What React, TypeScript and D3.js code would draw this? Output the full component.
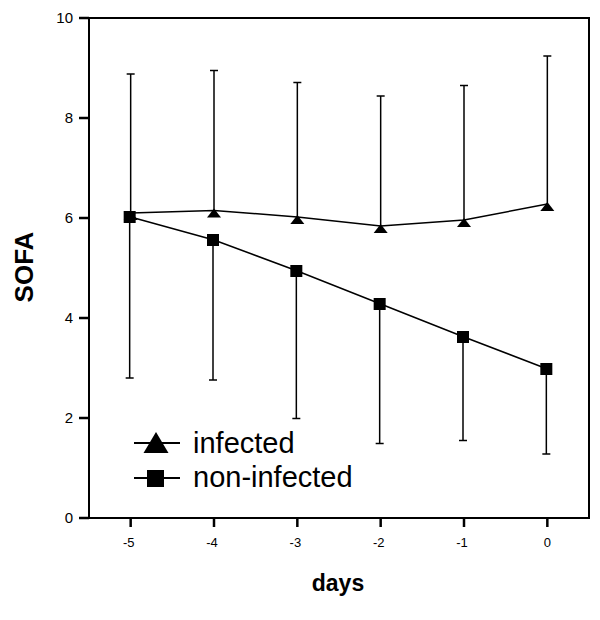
import React from "react";
import * as d3 from "d3";

const days = [-5, -4, -3, -2, -1, 0];
const infectedMean = [6.1, 6.15, 6.02, 5.84, 5.96, 6.28];
const infectedUpper = [8.88, 8.95, 8.71, 8.44, 8.65, 9.24];
const nonInfectedMean = [6.02, 5.56, 4.94, 4.28, 3.62, 2.98];
const nonInfectedLower = [2.8, 2.76, 1.99, 1.49, 1.55, 1.28];
const yTicks = [0, 2, 4, 6, 8, 10];
const xTicks = [-5, -4, -3, -2, -1, 0];
const legendLabels = ["infected", "non-infected"];

const FONT = "Arial, 'Liberation Sans', Helvetica, sans-serif";

export default function App() {
  const left = 89, right = 589, top = 18, bottom = 518;
  const x = d3.scaleLinear().domain([-5.5, 0.5]).range([left, right]);
  const y = d3.scaleLinear().domain([0, 10]).range([bottom, top]);
  const line = d3
    .line<number>()
    .x((_, i) => x(days[i]))
    .y((d) => y(d));

  const tri = (cx: number, cy: number, w: number, h: number, up: number) =>
    `M${cx},${cy - up} L${cx + w / 2},${cy - up + h} L${cx - w / 2},${cy - up + h} Z`;

  return (
    <svg
      width={600}
      height={620}
      style={{ position: "absolute", left: 0, top: 0, background: "#fff" }}
    >
      <rect x={0} y={0} width={600} height={620} fill="#fff" />
      <rect
        x={left}
        y={top}
        width={right - left}
        height={bottom - top}
        fill="none"
        stroke="#000"
        strokeWidth={2}
      />
      {yTicks.map((t) => (
        <g key={"y" + t}>
          <line x1={79} x2={left} y1={y(t)} y2={y(t)} stroke="#000" strokeWidth={2.5} />
          <text
            x={73}
            y={y(t)}
            dy="0.36em"
            textAnchor="end"
            fontFamily={FONT}
            fontSize={15}
            fill="#000"
          >
            {t}
          </text>
        </g>
      ))}
      {xTicks.map((t) => (
        <g key={"x" + t}>
          <line x1={x(t)} x2={x(t)} y1={bottom} y2={527} stroke="#000" strokeWidth={2.5} />
          <text
            x={x(t) - (t < 0 ? 2 : 0)}
            y={547}
            textAnchor="middle"
            fontFamily={FONT}
            fontSize={13}
            fill="#000"
          >
            {t}
          </text>
        </g>
      ))}
      <text
        x={338}
        y={591}
        textAnchor="middle"
        fontFamily={FONT}
        fontWeight="bold"
        fontSize={23}
        fill="#000"
      >
        days
      </text>
      <text
        transform="translate(33,267) rotate(-90)"
        textAnchor="middle"
        fontFamily={FONT}
        fontWeight="bold"
        fontSize={26}
        fill="#000"
      >
        SOFA
      </text>

      {days.map((d, i) => (
        <g key={"ei" + d}>
          <line
            x1={x(d)}
            x2={x(d)}
            y1={y(infectedMean[i])}
            y2={y(infectedUpper[i])}
            stroke="#000"
            strokeWidth={1.5}
          />
          <line
            x1={x(d) - 4}
            x2={x(d) + 4}
            y1={y(infectedUpper[i])}
            y2={y(infectedUpper[i])}
            stroke="#000"
            strokeWidth={1.5}
          />
        </g>
      ))}
      {days.map((d, i) => (
        <g key={"en" + d}>
          <line
            x1={x(d) - 1}
            x2={x(d) - 1}
            y1={y(nonInfectedMean[i])}
            y2={y(nonInfectedLower[i])}
            stroke="#000"
            strokeWidth={1.5}
          />
          <line
            x1={x(d) - 5}
            x2={x(d) + 3}
            y1={y(nonInfectedLower[i])}
            y2={y(nonInfectedLower[i])}
            stroke="#000"
            strokeWidth={1.5}
          />
        </g>
      ))}

      <path d={line(infectedMean) || ""} fill="none" stroke="#000" strokeWidth={1.5} />
      <path d={line(nonInfectedMean) || ""} fill="none" stroke="#000" strokeWidth={1.5} />

      {days.map((d, i) => (
        <path key={"ti" + d} d={tri(x(d), y(infectedMean[i]), 14, 9, 2)} fill="#000" />
      ))}
      {days.map((d, i) => (
        <rect
          key={"sn" + d}
          x={x(d) - 7}
          y={y(nonInfectedMean[i]) - 6}
          width={12}
          height={12}
          fill="#000"
        />
      ))}

      <line x1={134} x2={180} y1={443} y2={443} stroke="#000" strokeWidth={2} />
      <path d={tri(156, 443, 25, 21, 11)} fill="#000" />
      <text x={193} y={453} fontFamily={FONT} fontSize={29} fill="#000">
        {legendLabels[0]}
      </text>
      <line x1={134} x2={180} y1={478} y2={478} stroke="#000" strokeWidth={2} />
      <rect x={147} y={470} width={17} height={17} fill="#000" />
      <text x={193} y={487} fontFamily={FONT} fontSize={29} fill="#000">
        {legendLabels[1]}
      </text>
    </svg>
  );
}
